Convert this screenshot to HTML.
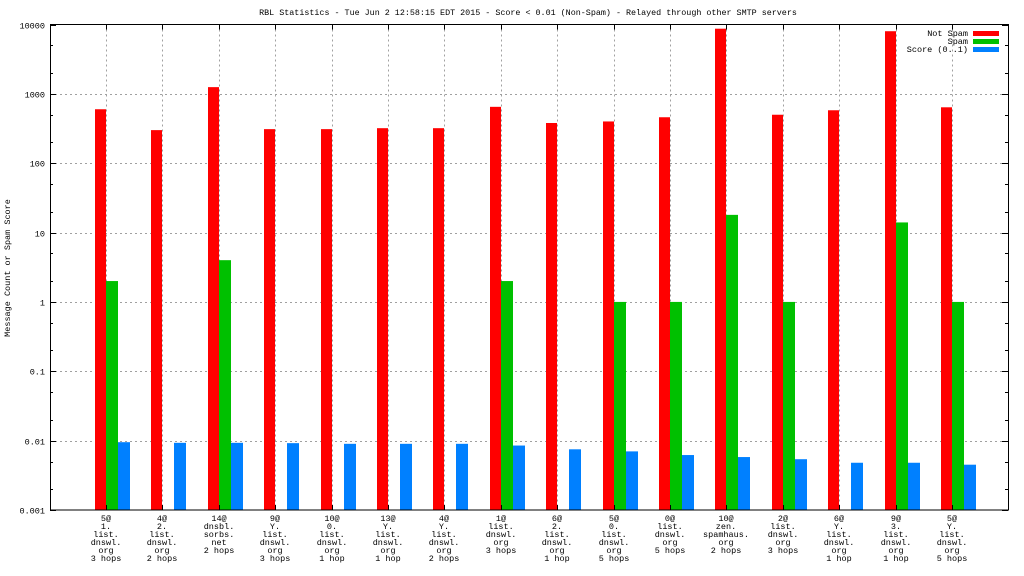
<!DOCTYPE html>
<html><head><meta charset="utf-8"><style>
body{margin:0;background:#fff}
svg{display:block;font-family:"Liberation Mono","DejaVu Sans Mono",monospace;font-size:8.5px}
</style></head><body>
<svg id="chart" width="1024" height="576">
<text x="528" y="15" text-anchor="middle" font-size="8.4">RBL Statistics - Tue Jun  2 12:58:15 EDT 2015 - Score &lt; 0.01 (Non-Spam) - Relayed through other SMTP servers</text>
<text transform="translate(10,268) rotate(-90)" text-anchor="middle">Message Count or Spam Score</text>
<g id="grid"></g><g id="bars"></g><g id="axes"></g>
<g>
<text x="968" y="36" text-anchor="end">Not Spam</text>
<rect x="973" y="31" width="26" height="5" fill="#ff0000"/>
<text x="968" y="44" text-anchor="end">Spam</text>
<rect x="973" y="39" width="26" height="5" fill="#00c000"/>
<text x="968" y="52" text-anchor="end">Score (0..1)</text>
<rect x="973" y="47" width="26" height="5" fill="#0080ff"/>
</g>
</svg>
<script>
const categories=[
["5@","1.","list.","dnswl.","org","3 hops"],["4@","2.","list.","dnswl.","org","2 hops"],["14@","dnsbl.","sorbs.","net","2 hops"],["9@","Y.","list.","dnswl.","org","3 hops"],["10@","0.","list.","dnswl.","org","1 hop"],["13@","Y.","list.","dnswl.","org","1 hop"],["4@","Y.","list.","dnswl.","org","2 hops"],["1@","list.","dnswl.","org","3 hops"],["6@","2.","list.","dnswl.","org","1 hop"],["5@","0.","list.","dnswl.","org","5 hops"],["0@","list.","dnswl.","org","5 hops"],["10@","zen.","spamhaus.","org","2 hops"],["2@","list.","dnswl.","org","3 hops"],["6@","Y.","list.","dnswl.","org","1 hop"],["9@","3.","list.","dnswl.","org","1 hop"],["5@","Y.","list.","dnswl.","org","5 hops"]];
const notSpam=[600,300,1250,310,310,320,320,650,380,400,460,8700,500,580,8000,640];
const spam=[2,0,4,0,0,0,0,2,0,1,1,18,1,0,14,1];
const score=[0.0095,0.0093,0.0093,0.0092,0.009,0.009,0.009,0.0085,0.0075,0.007,0.0062,0.0058,0.0054,0.0048,0.0048,0.0045];
const yTicks=[0.001,0.01,0.1,1,10,100,1000,10000];
const yTickLabels=["0.001","0.01","0.1","1","10","100","1000","10000"];
const NS="http://www.w3.org/2000/svg";
const L=50,R=1008,T=24.5,B=510;
const y=v=>B-(Math.log10(v)+3)*(B-T)/7;
const x=i=>106+56.4*i;
function mk(tag,attrs,parent){const e=document.createElementNS(NS,tag);for(const k in attrs)e.setAttribute(k,attrs[k]);document.getElementById(parent).appendChild(e);return e;}
yTicks.forEach((v,i)=>{
 const yy=Math.round(y(v))+0.5;
 if(i>0&&i<yTicks.length-1){const g=mk('line',{x1:L,x2:R,y1:yy,y2:yy,stroke:'#a0a0a0','stroke-dasharray':'2,3'},'grid');
 
 }
 const t=mk('text',{x:L-5,y:yy+3,'text-anchor':'end'},'axes');t.textContent=yTickLabels[i];
 
 
 mk('line',{x1:L,x2:L+6,y1:yy,y2:yy,stroke:'#000'},'axes');
 mk('line',{x1:R,x2:R-6,y1:yy,y2:yy,stroke:'#000'},'axes');
 if(i<yTicks.length-1)[2,5].forEach(m=>{const my=Math.round(y(v*m))+0.5;
  mk('line',{x1:L,x2:L+3,y1:my,y2:my,stroke:'#000'},'axes');mk('line',{x1:R,x2:R-3,y1:my,y2:my,stroke:'#000'},'axes');});
});
categories.forEach((c,i)=>{
 const cx=Math.round(x(i));
 const g=mk('line',{x1:cx+0.5,x2:cx+0.5,y1:T,y2:B,stroke:'#a0a0a0','stroke-dasharray':'2,3'},'grid');
 
 
 mk('line',{x1:cx+0.5,x2:cx+0.5,y1:T,y2:T+5,stroke:'#000'},'axes');
 mk('line',{x1:cx+0.5,x2:cx+0.5,y1:B,y2:B-5,stroke:'#000'},'axes');
 const a=mk('rect',{x:cx-11,y:y(notSpam[i]),width:11,height:B-y(notSpam[i]),fill:'#ff0000'},'bars');
 
 
 if(spam[i]>0){const b=mk('rect',{x:cx,y:y(spam[i]),width:12,height:B-y(spam[i]),fill:'#00c000'},'bars');
 
 }
 const s=mk('rect',{x:cx+12,y:y(score[i]),width:12,height:B-y(score[i]),fill:'#0080ff'},'bars');
 
 
 c.forEach((ln,j)=>{const t=mk('text',{x:cx,y:521+j*8,'text-anchor':'middle'},'axes');t.textContent=ln;
  
  });
});
const f=mk('rect',{x:L+0.5,y:T,width:R-L,height:B-T,fill:'none',stroke:'#000'},'axes');


</script>
</body></html>
